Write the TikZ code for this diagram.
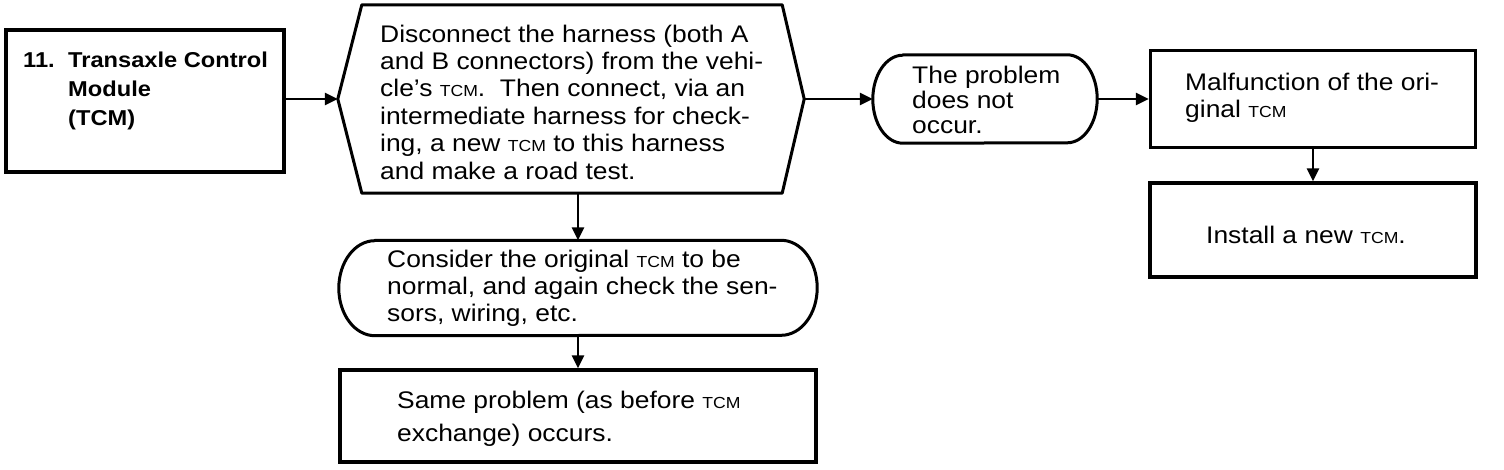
\documentclass[tikz,border=0pt]{standalone}
\usepackage{fontspec}
\setmainfont[FakeStretch=1.1]{Liberation Sans}
\newfontfamily\boxonefont[FakeStretch=1.1]{Liberation Sans}
\usetikzlibrary{arrows.meta,calc}
\newcommand{\tcm}{{\fontsize{16}{16}\selectfont TCM}}
\begin{document}
\begin{tikzpicture}[x=1pt,y=-1pt,
  every node/.style={inner sep=0pt},
  txt/.style={anchor=west, align=left, font=\fontsize{24}{#1}\selectfont},
  shp/.style={minimum width=#1},
  boxn/.style={draw, line width=3.4pt, minimum width=#1},
  flow/.style={line width=2.6pt, -{Triangle[length=13pt,width=12pt]}},
  outl/.style={line width=3pt, line join=round}]
\useasboundingbox (0,0) rectangle (1504,470);
\fill[white] (0,0) rectangle (1504,470);
% box 1
\node[boxn=278pt, minimum height=142pt] (b1) at (145,101) {};
\node[anchor=west, align=left, font=\boxonefont\bfseries\fontsize{21.5}{29}\selectfont] (t1) at (23,91)
  {\makebox[45pt][l]{11.}Transaxle Control\\\hspace*{45pt}Module\\\hspace*{45pt}(TCM)};
% hexagon
\node[shp=420pt, minimum height=188pt] (hex) at (572,99) {};
\coordinate (hexL) at ($(hex.west)+(-24pt,0)$);
\coordinate (hexR) at ($(hex.east)+(22pt,0)$);
\draw[outl] (hexL) -- (hex.north west) -- (hex.north east) -- (hexR) -- (hex.south east) -- (hex.south west) -- cycle;
\node[txt=27.4] (t2) at (380,102)
  {Disconnect the harness (both A\\and B connectors) from the vehi-\\cle's \tcm.\ \ Then connect, via an\\intermediate harness for check-\\ing, a new \tcm\ to this harness\\and make a road test.};
% problem stadium
\node[shp=224pt, minimum height=88pt] (prob) at (985,99) {};
\draw[outl] ($(prob.north west)+(30,0)$) -- ($(prob.north east)+(-30,0)$)
  arc[start angle=-90, end angle=90, x radius=30, y radius=44]
  -- ($(prob.south west)+(30,0)$)
  arc[start angle=90, end angle=270, x radius=30, y radius=44] -- cycle;
\node[txt=25] (t3) at (912,100) {The problem\\does not\\occur.};
% malfunction
\node[boxn=325pt, minimum height=97pt] (mal) at (1313,99) {};
\node[txt=27] (t4) at (1185,98) {Malfunction of the ori-\\ginal \tcm};
% install
\node[boxn=326pt, minimum height=94pt] (inst) at (1313,230) {};
\node[txt=27] (t5) at (1206,235) {Install a new \tcm.};
% consider stadium
\node[shp=478pt, minimum height=95pt] (cons) at (578,288) {};
\draw[outl] ($(cons.north west)+(36,0)$) -- ($(cons.north east)+(-36,0)$)
  arc[start angle=-90, end angle=90, x radius=36, y radius=47.5]
  -- ($(cons.south west)+(36,0)$)
  arc[start angle=90, end angle=270, x radius=36, y radius=47.5] -- cycle;
\node[txt=27] (t6) at (387,288)
  {Consider the original \tcm\ to be\\normal, and again check the sen-\\sors, wiring, etc.};
% same problem
\node[boxn=476pt, minimum height=92pt] (same) at (578,416) {};
\node[txt=33] (t7) at (397,419) {Same problem (as before \tcm\\exchange) occurs.};
% connectors
\draw[flow] (b1.east |- hexL) -- (hexL);
\draw[flow] (hexR) -- (prob.west);
\draw[flow] (prob.east) -- (mal.west);
\draw[flow] (mal) -- (inst.north);
\draw[flow] (cons.north |- hex.south) -- (cons.north);
\draw[flow] (cons) -- (same.north);
\end{tikzpicture}
\end{document}
